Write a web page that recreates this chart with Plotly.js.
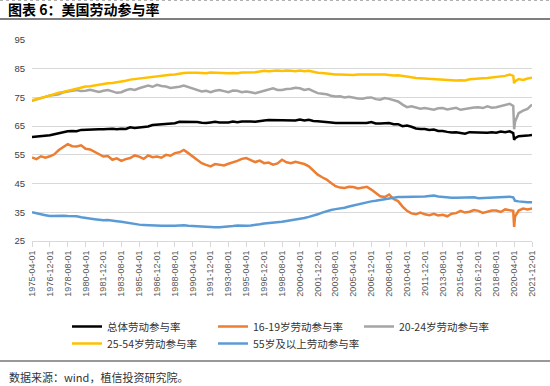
<!DOCTYPE html>
<html>
<head>
<meta charset="utf-8">
<script src="https://cdn.plot.ly/plotly-3.0.1.min.js"></script>
<style>html,body{margin:0;padding:0;background:#fff}#chart{width:550px;height:386px}</style>
</head>
<body>
<div id="chart"></div>
<script>
// Monthly observations sampled every 5 months (plus 2020-03 / 2020-05 around the COVID drop)
const dates = [
"1975-04","1975-09","1976-02","1976-07","1976-12","1977-05","1977-10","1978-03","1978-08","1979-01",
"1979-06","1979-11","1980-04","1980-09","1981-02","1981-07","1981-12","1982-05","1982-10","1983-03",
"1983-08","1984-01","1984-06","1984-11","1985-04","1985-09","1986-02","1986-07","1986-12","1987-05",
"1987-10","1988-03","1988-08","1989-01","1989-06","1989-11","1990-04","1990-09","1991-02","1991-07",
"1991-12","1992-05","1992-10","1993-03","1993-08","1994-01","1994-06","1994-11","1995-04","1995-09",
"1996-02","1996-07","1996-12","1997-05","1997-10","1998-03","1998-08","1999-01","1999-06","1999-11",
"2000-04","2000-09","2001-02","2001-07","2001-12","2002-05","2002-10","2003-03","2003-08","2004-01",
"2004-06","2004-11","2005-04","2005-09","2006-02","2006-07","2006-12","2007-05","2007-10","2008-03",
"2008-08","2009-01","2009-06","2009-11","2010-04","2010-09","2011-02","2011-07","2011-12","2012-05",
"2012-10","2013-03","2013-08","2014-01","2014-06","2014-11","2015-04","2015-09","2016-02","2016-07",
"2016-12","2017-05","2017-10","2018-03","2018-08","2019-01","2019-06","2019-11","2020-03","2020-04",
"2020-05","2020-09","2021-02","2021-07","2021-12"];

const total = [
61.2,61.3,61.4,61.7,61.8,62.2,62.6,62.8,63.2,63.3,
63.2,63.7,63.8,63.7,63.9,63.9,63.9,64.0,64.1,63.9,
64.1,64.0,64.6,64.4,64.6,64.9,64.9,65.4,65.5,65.7,
65.9,65.8,66.0,66.5,66.5,66.6,66.6,66.4,66.2,66.1,
66.3,66.5,66.3,66.2,66.3,66.6,66.4,66.6,66.7,66.6,
66.5,66.8,67.0,67.1,67.1,67.1,67.0,67.2,67.1,67.0,
67.3,67.0,67.2,66.8,66.7,66.6,66.6,66.3,66.1,66.1,
66.1,66.0,66.1,66.1,66.2,66.1,66.4,65.9,65.9,66.1,
66.1,65.7,65.7,65.0,65.2,64.8,64.2,64.0,64.0,63.7,
63.8,63.3,63.3,63.0,62.8,62.9,62.7,62.4,62.9,62.8,
62.7,62.7,62.7,62.9,62.7,63.1,62.9,63.2,62.6,60.2,
60.8,61.5,61.5,61.7,61.9];

const age1619 = [
54.1,53.5,54.5,54.0,54.5,55.2,56.7,57.8,58.7,58.0,
57.9,58.3,57.1,56.9,56.1,55.3,54.4,54.6,53.3,53.8,
52.9,53.5,53.9,54.8,54.4,53.6,54.8,54.2,54.4,54.0,
55.0,54.7,55.6,55.9,56.7,55.6,54.4,53.2,52.1,51.5,
51.0,51.8,51.6,51.3,51.9,52.3,52.9,53.6,53.9,53.2,
52.5,53.0,52.1,52.3,51.6,52.0,53.3,52.4,52.1,52.6,
52.1,51.8,51.0,49.6,48.1,47.2,46.4,45.2,44.1,43.6,
43.5,43.9,43.8,43.3,43.5,43.9,42.9,41.6,40.6,40.3,
41.2,39.6,38.9,37.0,35.5,34.6,34.3,34.9,34.3,34.0,
34.5,33.9,34.1,33.6,34.5,34.7,35.5,34.9,35.2,35.8,
35.5,34.8,35.2,35.6,35.6,35.1,36.0,35.8,35.5,29.9,
33.5,35.6,36.3,36.0,36.3];

const age2024 = [
73.8,74.3,74.8,75.3,75.7,75.8,76.1,76.8,77.1,77.4,
77.6,77.2,77.3,77.7,77.4,76.9,77.3,77.6,77.1,76.6,
76.8,77.5,77.9,77.6,78.2,78.6,79.1,78.7,79.4,79.0,
78.8,78.3,78.4,78.7,79.1,78.6,78.2,77.6,77.1,77.3,
76.8,77.3,77.6,77.2,76.8,77.4,77.3,76.8,77.1,76.8,
76.5,76.9,77.3,77.8,78.2,77.6,77.6,77.9,78.0,78.4,
78.2,77.6,77.9,77.2,76.5,76.3,76.1,75.6,75.3,75.4,
75.0,75.2,74.8,74.6,74.5,74.9,75.0,74.4,74.2,74.8,
74.5,74.0,73.6,72.5,71.6,71.9,71.6,71.1,71.3,71.0,
70.7,71.2,71.3,70.8,71.0,71.4,70.7,71.0,71.1,71.5,
71.6,71.3,71.9,71.4,71.6,72.0,72.5,72.8,72.0,63.9,
66.5,69.5,70.4,71.0,72.5];

const age2554 = [
74.0,74.3,74.8,75.2,75.7,76.2,76.6,76.9,77.3,77.7,
78.0,78.4,78.8,78.9,79.2,79.4,79.7,79.9,80.0,80.2,
80.5,80.8,81.2,81.4,81.7,81.8,82.0,82.2,82.4,82.6,
82.8,82.9,83.0,83.3,83.5,83.6,83.7,83.6,83.5,83.4,
83.7,83.6,83.5,83.4,83.4,83.5,83.4,83.7,83.7,83.6,
83.8,84.0,84.3,84.1,84.3,84.4,84.2,84.4,84.3,84.1,
84.4,84.1,84.3,83.9,83.6,83.5,83.3,83.2,83.0,83.0,
82.9,82.8,82.8,83.0,82.9,83.0,83.0,83.1,83.0,83.0,
82.8,82.6,82.7,82.4,82.2,82.0,81.8,81.7,81.7,81.6,
81.5,81.3,81.1,81.0,81.0,80.9,81.0,80.9,81.3,81.5,
81.5,81.7,81.8,82.0,82.1,82.5,82.5,83.0,82.5,79.9,
80.6,81.4,81.1,81.6,81.9];

const age55plus = [
35.0,34.6,34.2,34.0,33.7,33.8,33.9,33.8,33.7,33.7,
33.6,33.3,33.0,32.8,32.6,32.4,32.2,32.3,32.2,31.9,
31.7,31.4,31.1,30.9,30.7,30.6,30.5,30.3,30.2,30.3,
30.3,30.2,30.3,30.4,30.5,30.3,30.2,30.0,29.9,29.9,
29.9,29.8,29.8,29.9,29.9,30.2,30.4,30.3,30.3,30.4,
30.5,30.8,31.1,31.2,31.4,31.6,31.7,32.0,32.2,32.4,
32.6,33.0,33.4,33.8,34.3,34.9,35.4,35.8,36.1,36.3,
36.6,37.0,37.4,37.8,38.2,38.5,38.8,39.0,39.3,39.6,
39.9,40.1,40.3,40.3,40.3,40.4,40.5,40.5,40.5,40.7,
40.8,40.5,40.3,40.2,40.1,40.1,40.1,40.0,40.1,40.2,
39.9,40.0,40.1,40.2,40.3,40.3,40.3,40.4,40.2,39.3,
39.0,38.8,38.6,38.5,38.5];

const seriesNames = ["总体劳动参与率","16-19岁劳动参与率","20-24岁劳动参与率","25-54岁劳动参与率","55岁及以上劳动参与率"];
const seriesColors = ["#000000","#ED7D31","#A5A5A5","#FFC000","#5B9BD5"];
const tickLabels = ["1975-04-01","1976-12-01","1978-08-01","1980-04-01","1981-12-01","1983-08-01","1985-04-01",
"1986-12-01","1988-08-01","1990-04-01","1991-12-01","1993-08-01","1995-04-01","1996-12-01","1998-08-01",
"2000-04-01","2001-12-01","2003-08-01","2005-04-01","2006-12-01","2008-08-01","2010-04-01","2011-12-01",
"2013-08-01","2015-04-01","2016-12-01","2018-08-01","2020-04-01","2021-12-01"];
const yTicks = [25,35,45,55,65,75,85,95];

const allSeries = [total, age1619, age2024, age2554, age55plus];
allSeries.forEach((s, i) => { if (s.length !== dates.length) throw new Error("length mismatch in series " + i + ": " + s.length + " vs " + dates.length); });

const cjk = '"Noto Sans CJK SC", "Noto Sans", sans-serif';
const traces = allSeries.map((s, i) => ({
  type: 'scatter', mode: 'lines', x: dates, y: s, name: seriesNames[i],
  line: {color: seriesColors[i], width: 2.5},
  legend: i < 3 ? 'legend' : 'legend2',
  hoverinfo: 'skip'
}));

const W = 550, H = 386, L = 32, R = 18, T = 40, B = 145;
const pw = W - L - R, ph = H - T - B;
const px = x => (x - L) / pw;
const py = y => (H - B - y) / ph;

const legendCommon = {
  orientation: 'h', entrywidth: 101, entrywidthmode: 'pixels',
  xanchor: 'left', yanchor: 'top', bgcolor: 'rgba(0,0,0,0)',
  font: {family: cjk, size: 10.5, color: '#333333'},
  tracegroupgap: 0, itemclick: false, itemdoubleclick: false
};

const layout = {
  width: W, height: H,
  margin: {l: L, r: R, t: T, b: B},
  paper_bgcolor: '#ffffff', plot_bgcolor: '#ffffff',
  title: {
    text: '<b>图表 6：美国劳动参与率</b>',
    font: {family: cjk, size: 14, color: '#000000'},
    xref: 'container', yref: 'container', x: 8 / W, xanchor: 'left', y: 1 - 10 / H, yanchor: 'middle'
  },
  xaxis: {
    type: 'date', range: ['1975-04-01', '2021-12-01'],
    tickmode: 'array', tickvals: tickLabels, ticktext: tickLabels,
    tickangle: -90, ticks: 'outside', ticklen: 5, tickcolor: '#d9d9d9',
    showline: true, linecolor: '#d9d9d9', linewidth: 1, showgrid: false, zeroline: false,
    tickfont: {family: 'Liberation Sans, Arial, sans-serif', size: 9, color: '#595959'}
  },
  yaxis: {
    range: [25, 95], tickmode: 'array', tickvals: yTicks,
    showgrid: true, gridcolor: '#d9d9d9', gridwidth: 1, zeroline: false, showline: false,
    ticks: '', ticklabelstandoff: 6,
    tickfont: {family: 'Liberation Sans, Arial, sans-serif', size: 9.5, color: '#404040'}
  },
  legend: Object.assign({}, legendCommon, {x: px(67), y: py(312)}),
  legend2: Object.assign({}, legendCommon, {x: px(67), y: py(329)}),
  shapes: [
    {type: 'line', xref: 'paper', yref: 'paper', x0: px(0), x1: px(W), y0: py(0.5), y1: py(0.5), line: {color: '#b0b0b0', width: 1, dash: 'dot'}},
    {type: 'line', xref: 'paper', yref: 'paper', x0: px(0), x1: px(W), y0: py(19), y1: py(19), line: {color: '#555555', width: 1.5}},
    {type: 'line', xref: 'paper', yref: 'paper', x0: px(0), x1: px(W), y0: py(361), y1: py(361), line: {color: '#333333', width: 1}}
  ],
  annotations: [
    {text: '数据来源：wind，植信投资研究院。', xref: 'paper', yref: 'paper', x: px(7), y: py(377),
     xanchor: 'left', yanchor: 'middle', showarrow: false,
     font: {family: cjk, size: 11, color: '#333333'}}
  ],
  showlegend: true
};

Plotly.newPlot('chart', traces, layout, {staticPlot: true, displayModeBar: false});
</script>
</body>
</html>
